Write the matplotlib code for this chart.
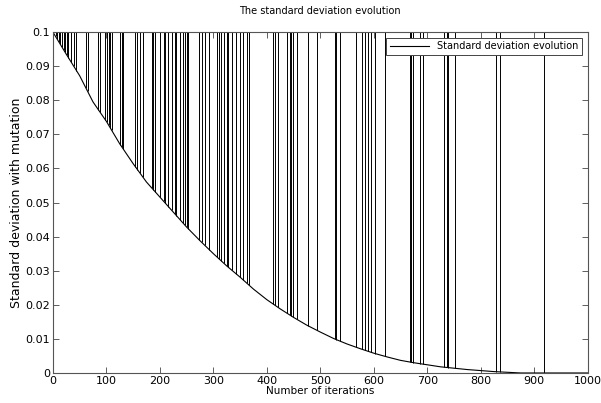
import numpy as np
import matplotlib
matplotlib.use("Agg")
import matplotlib.pyplot as plt

# baseline of the standard deviation, read every 25 iterations
iters = np.arange(0, 1001, 25)
std_base = np.array([
    0.1000, 0.0935, 0.0872, 0.0795, 0.0738, 0.0672, 0.0614, 0.0560,
    0.0516, 0.0472, 0.0428, 0.0388, 0.0350, 0.0314, 0.0281, 0.0246,
    0.0215, 0.0188, 0.0163, 0.0140, 0.0120, 0.0101, 0.0085, 0.0071,
    0.0058, 0.0047, 0.0037, 0.0030, 0.0024, 0.0018, 0.0014, 0.0010,
    0.0007, 0.0004, 0.0002, 0.0, 0.0, 0.0, 0.0, 0.0, 0.0,
])

# iterations where the mutation resets the deviation to its maximum
spike_iters = [
    5, 8, 11, 14, 17, 20, 23, 26, 29, 34, 39, 44, 62, 65, 85, 88, 98, 101,
    104, 107, 110, 126, 129, 132, 154, 158, 163, 168, 185, 188, 191, 200,
    207, 210, 216, 222, 228, 231, 238, 244, 247, 250, 253, 274, 278, 284,
    292, 307, 311, 315, 319, 325, 328, 334, 343, 350, 356, 362, 367, 412,
    415, 421, 437, 443, 446, 449, 456, 477, 493, 527, 530, 536, 567, 577,
    583, 589, 595, 602, 620, 667, 670, 673, 686, 692, 732, 736, 739, 751,
    829, 835, 919,
]
spike_top = 0.1

fig = plt.figure(figsize=(6.01, 4.03), dpi=100)
ax = fig.add_axes([0.088, 0.0745, 0.890, 0.846])

ax.plot(iters, std_base, color="black", lw=0.8, label="Standard deviation evolution")
bottoms = np.interp(spike_iters, iters, std_base)
ax.vlines(spike_iters, bottoms, spike_top, color="black", lw=0.7)

ax.set_xlim(0, 1000)
ax.set_ylim(0, 0.1)
ax.set_xticks(np.arange(0, 1001, 100))
ax.set_yticks(np.arange(0, 0.1001, 0.01))
ax.set_yticklabels(["0", "0.01", "0.02", "0.03", "0.04", "0.05",
                    "0.06", "0.07", "0.08", "0.09", "0.1"])
ax.tick_params(direction="in", top=True, right=True, labelsize=8,
               length=4, width=0.6, colors="#444444", labelcolor="black", pad=2)
for s in ax.spines.values():
    s.set_color("#555555")
    s.set_linewidth(0.8)

ax.set_title("The standard deviation evolution", fontsize=7, pad=13)
ax.set_xlabel("Number of iterations", fontsize=7.5, labelpad=0)
ax.set_ylabel("Standard deviation with mutation", fontsize=9, labelpad=2)

leg = ax.legend(loc="upper right", fontsize=7, fancybox=False, framealpha=1,
                edgecolor="#444444", borderpad=0.35, handlelength=4.1,
                borderaxespad=0.6)
leg.get_frame().set_linewidth(0.7)

fig.savefig("out.png", dpi=100)
